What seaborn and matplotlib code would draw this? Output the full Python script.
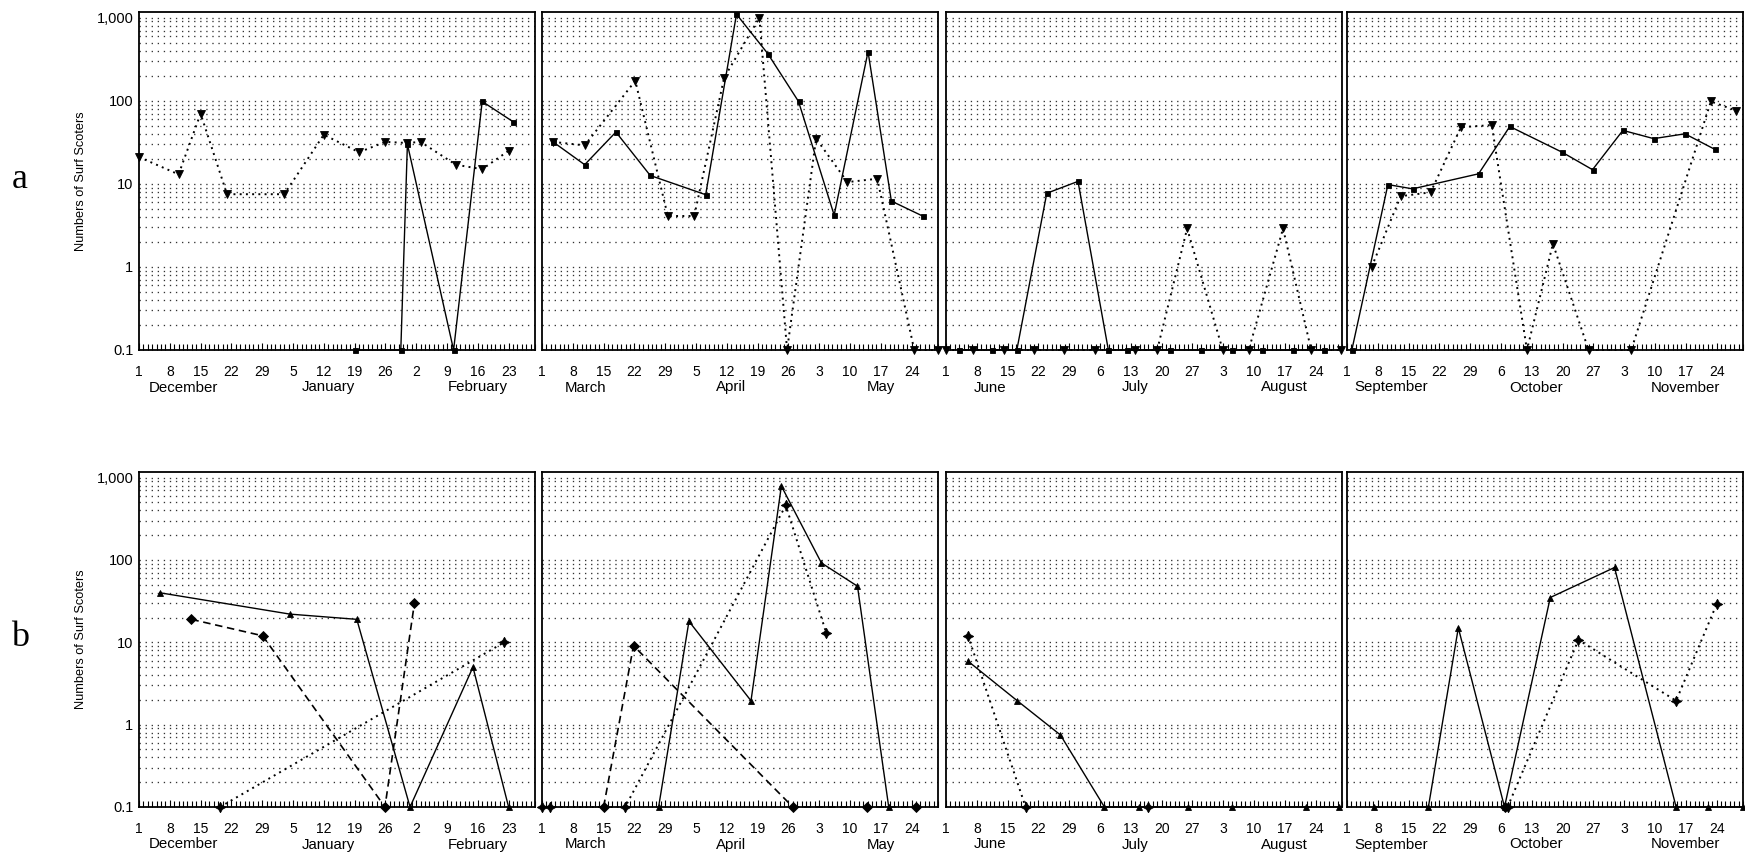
import matplotlib
matplotlib.use("Agg")
import matplotlib.pyplot as plt
import seaborn as sns
import pandas as pd
from matplotlib.ticker import FixedLocator, LogLocator, MultipleLocator, NullFormatter

# ---------------------------------------------------------------- data
# Survey dates are given as days since the first day of each quarter;
# counts of zero sit on the 0.1 baseline of the log axis.
QUARTER_STARTS = ["1990-12-01", "1991-03-01", "1991-06-01", "1991-09-01"]
MONTHS = [
    ["December", "January", "February"],
    ["March", "April", "May"],
    ["June", "July", "August"],
    ["September", "October", "November"],
]
Y_TICKS = [0.1, 1, 10, 100, 1000]
Y_TICK_LABELS = ["0.1", "1", "10", "100", "1,000"]
Y_LABEL = "Numbers of Surf Scoters"

# (a) solid line / squares
A_SQ_DAYS_1 = [49, 59.5, 61, 71.5, 78, 85]
A_SQ_VALS_1 = [0.1, 0.1, 30, 0.1, 98, 56]
A_SQ_DAYS_2 = [2.5, 9.7, 16.8, 24.6, 37.2, 44.2, 51.3, 58.3, 66.4, 74.1, 79.4, 86.5]
A_SQ_VALS_2 = [32, 17, 42, 12.6, 7.4, 1100, 370, 98, 4.2, 390, 6.2, 4.1]
A_SQ_DAYS_3 = [3, 10.4, 16.1, 22.9, 30, 36.9, 41.1, 51, 57.9, 65, 71.9, 78.8, 85.9]
A_SQ_VALS_3 = [0.1, 0.1, 0.1, 7.7, 10.7, 0.1, 0.1, 0.1, 0.1, 0.1, 0.1, 0.1, 0.1]
A_SQ_DAYS_4 = [1.1, 9.3, 14.9, 29.9, 37, 48.9, 55.8, 62.7, 69.7, 76.8, 83.6]
A_SQ_VALS_4 = [0.1, 9.8, 8.7, 13.2, 49, 24, 14.8, 44, 35, 40, 26]

# (a) dotted line / down triangles
A_TR_DAYS_1 = [0, 9, 14, 20, 33, 42, 50, 56, 61, 64, 72, 78, 84]
A_TR_VALS_1 = [21, 13, 70, 7.5, 7.5, 39, 24, 32, 31, 32, 17, 15, 25]
A_TR_DAYS_2 = [2.5, 9.7, 21.2, 28.6, 34.6, 41.4, 49.4, 55.7, 62.3, 69.4, 76.2, 84.6, 90]
A_TR_VALS_2 = [32, 29, 174, 4.1, 4.1, 190, 1000, 0.1, 35, 10.5, 11.5, 0.1, 0.1]
A_TR_DAYS_3 = [0, 6.1, 13.1, 20, 26.9, 33.8, 43, 48, 54.8, 62.9, 68.8, 76.6, 83, 89.8]
A_TR_VALS_3 = [0.1, 0.1, 0.1, 0.1, 0.1, 0.1, 0.1, 0.1, 2.9, 0.1, 0.1, 2.9, 0.1, 0.1]
A_TR_DAYS_4 = [5.6, 12.2, 19, 25.9, 32.9, 40.9, 46.8, 54.9, 64.6, 82.7, 88.5]
A_TR_VALS_4 = [1.0, 7.1, 7.9, 48, 51, 0.1, 1.9, 0.1, 0.1, 98, 76]

# (b) solid line / up triangles
B_TR_DAYS_1 = [4.7, 34.3, 49.5, 61.6, 75.9, 84]
B_TR_VALS_1 = [40, 22, 19, 0.1, 5.0, 0.1]
B_TR_DAYS_2 = [26.5, 33.4, 47.5, 54.4, 63.5, 71.7, 78.8]
B_TR_VALS_2 = [0.1, 18, 1.95, 790, 92, 48, 0.1]
B_TR_DAYS_3 = [5, 16.2, 26, 36, 43.9, 55, 64.9, 81.9, 89.4]
B_TR_VALS_3 = [5.9, 1.95, 0.75, 0.1, 0.1, 0.1, 0.1, 0.1, 0.1]
B_TR_DAYS_4 = [6.2, 18.5, 25.3, 35.8, 46.2, 60.8, 74.8, 82, 89.9]
B_TR_VALS_4 = [0.1, 0.1, 15, 0.1, 35, 81, 0.1, 0.1, 0.1]

# (b) dashed line / diamonds
B_DI_DAYS_1 = [11.9, 28.1, 55.9, 62.6]
B_DI_VALS_1 = [19, 12, 0.1, 30]
B_DI_DAYS_2 = [14, 20.8, 57, 73.8, 85]
B_DI_VALS_2 = [0.1, 9.1, 0.1, 0.1, 0.1]
B_DI_DAYS_3 = []
B_DI_VALS_3 = []
B_DI_DAYS_4 = [35.8]
B_DI_VALS_4 = [0.1]

# (b) dotted line / stars
B_ST_DAYS_1 = [18.4, 83]
B_ST_VALS_1 = [0.1, 10]
B_ST_DAYS_2 = [0, 1.8, 18.9, 55.4, 64.6]
B_ST_VALS_2 = [0.1, 0.1, 0.1, 460, 13]
B_ST_DAYS_3 = [5, 18.1, 45.8]
B_ST_VALS_3 = [12, 0.1, 0.1]
B_ST_DAYS_4 = [36.5, 52.6, 74.8, 84]
B_ST_VALS_4 = [0.1, 10.7, 1.95, 29]

# ---------------------------------------------------------------- styles
FONT = ["Liberation Sans", "DejaVu Sans"]
plt.rcParams["font.family"] = FONT

SOLID_SQ = dict(linestyle="-", linewidth=1.0, marker="s", markersize=3.6)
DOTTED_TRI = dict(linestyle=(0, (1, 2.2)), linewidth=1.4, marker="v", markersize=5.2)
SOLID_TRI = dict(linestyle="-", linewidth=1.0, marker="^", markersize=5.0)
DASHED_DI = dict(linestyle=(0, (4.5, 2.8)), linewidth=1.2, marker="D", markersize=4.6)
DOTTED_ST = dict(linestyle=(0, (1, 2.2)), linewidth=1.4, marker=(4, 1, 0), markersize=7.5)

ROW_A = [
    [(A_SQ_DAYS_1, A_SQ_VALS_1, SOLID_SQ), (A_TR_DAYS_1, A_TR_VALS_1, DOTTED_TRI)],
    [(A_SQ_DAYS_2, A_SQ_VALS_2, SOLID_SQ), (A_TR_DAYS_2, A_TR_VALS_2, DOTTED_TRI)],
    [(A_SQ_DAYS_3, A_SQ_VALS_3, SOLID_SQ), (A_TR_DAYS_3, A_TR_VALS_3, DOTTED_TRI)],
    [(A_SQ_DAYS_4, A_SQ_VALS_4, SOLID_SQ), (A_TR_DAYS_4, A_TR_VALS_4, DOTTED_TRI)],
]
ROW_B = [
    [(B_TR_DAYS_1, B_TR_VALS_1, SOLID_TRI), (B_DI_DAYS_1, B_DI_VALS_1, DASHED_DI),
     (B_ST_DAYS_1, B_ST_VALS_1, DOTTED_ST)],
    [(B_TR_DAYS_2, B_TR_VALS_2, SOLID_TRI), (B_DI_DAYS_2, B_DI_VALS_2, DASHED_DI),
     (B_ST_DAYS_2, B_ST_VALS_2, DOTTED_ST)],
    [(B_TR_DAYS_3, B_TR_VALS_3, SOLID_TRI), (B_DI_DAYS_3, B_DI_VALS_3, DASHED_DI),
     (B_ST_DAYS_3, B_ST_VALS_3, DOTTED_ST)],
    [(B_TR_DAYS_4, B_TR_VALS_4, SOLID_TRI), (B_DI_DAYS_4, B_DI_VALS_4, DASHED_DI),
     (B_ST_DAYS_4, B_ST_VALS_4, DOTTED_ST)],
]

# ---------------------------------------------------------------- layout (pixels)
W, H = 1745, 859
PANEL_LEFT = [139, 542, 946, 1347]
PANEL_W = 396
ROW_TOP = [12, 472]
ROW_BOTTOM = [350, 807]
X_MAX = 90
Y_MAX = 1170
MONTH_POS = [10, 43, 77]

fig = plt.figure(figsize=(W / 100, H / 100), dpi=100)
fig.patch.set_facecolor("white")


def style_axes(ax, quarter, first):
    ax.set_yscale("log")
    ax.set_xlim(0, X_MAX)
    ax.set_ylim(0.1, Y_MAX)
    for s in ax.spines.values():
        s.set_linewidth(1.3)
        s.set_color("black")
    # weekly labelled ticks, daily minor ticks, all pointing inward
    start = pd.Timestamp(QUARTER_STARTS[quarter])
    week_days = list(range(0, 85, 7))
    labels = [str((start + pd.Timedelta(days=d)).day) for d in week_days]
    ax.xaxis.set_major_locator(FixedLocator(week_days))
    ax.set_xticklabels(labels)
    ax.xaxis.set_minor_locator(MultipleLocator(1))
    ax.tick_params(axis="x", which="major", direction="in", length=5, width=0.8,
                   pad=10.5, labelsize=10, top=False)
    ax.tick_params(axis="x", which="minor", direction="in", length=4, width=0.8, top=False)
    # log grid of dotted rules at every 1..9 x 10^k
    ax.yaxis.set_major_locator(FixedLocator(Y_TICKS))
    ax.yaxis.set_minor_locator(LogLocator(base=10, subs=range(2, 10)))
    ax.yaxis.set_minor_formatter(NullFormatter())
    if first:
        ax.set_yticklabels(Y_TICK_LABELS)
    else:
        ax.set_yticklabels([])
    ax.tick_params(axis="y", which="both", length=0, pad=4, labelsize=10.5)
    ax.grid(axis="y", which="both", linestyle=(0, (1, 3.6)), linewidth=0.95, color="0.2")
    ax.grid(axis="x", which="both", visible=False)
    ax.set_axisbelow(True)
    ax.set_xlabel("")
    ax.set_ylabel("")
    for pos, name in zip(MONTH_POS, MONTHS[quarter]):
        ax.annotate(name, xy=(pos, 0), xycoords=("data", "axes fraction"),
                    xytext=(0, -27), textcoords="offset points",
                    ha="center", va="center", fontsize=10.8)


for r, row in enumerate([ROW_A, ROW_B]):
    bottom = 1 - ROW_BOTTOM[r] / H
    height = (ROW_BOTTOM[r] - ROW_TOP[r]) / H
    for q in range(4):
        ax = fig.add_axes([PANEL_LEFT[q] / W, bottom, PANEL_W / W, height])
        ax.set_facecolor("white")
        for days, vals, st in row[q]:
            if not days:
                continue
            sns.lineplot(x=days, y=vals, ax=ax, estimator=None, sort=False,
                         color="black", markeredgecolor="black",
                         markerfacecolor="black", markeredgewidth=0.6,
                         clip_on=False, zorder=3, **st)
        style_axes(ax, q, q == 0)

    center = 1 - (ROW_TOP[r] + ROW_BOTTOM[r]) / 2 / H
    fig.text(81 / W, center, Y_LABEL, rotation=90, ha="center", va="center", fontsize=9.2)
    fig.text(20 / W, center + 0.002, "ab"[r], ha="center", va="center",
             fontsize=26, family=["Liberation Serif", "DejaVu Serif"])

fig.savefig("out.png", dpi=100, facecolor="white")
